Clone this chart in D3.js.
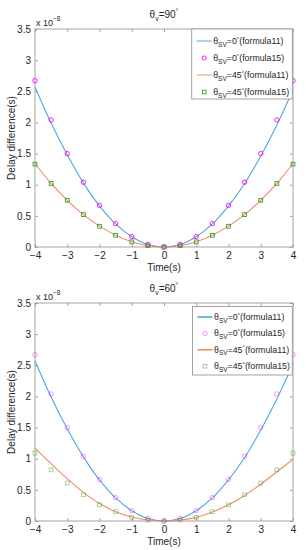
<!DOCTYPE html>
<html><head><meta charset="utf-8">
<script src="https://cdn.jsdelivr.net/npm/d3@7"></script>
<style>
body{margin:0;background:#fff;}
text{font-family:"Liberation Sans",Arial,sans-serif;fill:#262626;}
</style></head>
<body><svg id="c" width="306" height="550"></svg>
<script>
const time = [-4,-3.5,-3,-2.5,-2,-1.5,-1,-0.5,0,0.5,1,1.5,2,2.5,3,3.5,4];
const xTicks = [-4,-3,-2,-1,0,1,2,3,4];
const yTicks = [0,0.5,1,1.5,2,2.5,3,3.5];
const titles = ["90", "60"];
// values in units of 1e-8 s
const top_f11_sv0  = [2.57,1.99,1.48,1.03,0.66,0.37,0.165,0.04,0,0.04,0.165,0.37,0.66,1.02,1.46,1.96,2.52];
const top_f15_sv0  = [2.67,2.04,1.50,1.04,0.667,0.375,0.167,0.042,0,0.042,0.167,0.375,0.667,1.04,1.50,2.04,2.67];
const top_f11_sv45 = [1.34,1.02,0.75,0.52,0.335,0.19,0.085,0.021,0,0.021,0.085,0.19,0.335,0.52,0.75,1.02,1.34];
const top_f15_sv45 = [1.33,1.02,0.75,0.52,0.333,0.188,0.083,0.021,0,0.021,0.083,0.188,0.333,0.52,0.75,1.02,1.33];
const bot_f11_sv0  = [2.57,1.99,1.48,1.03,0.66,0.37,0.165,0.04,0,0.04,0.165,0.37,0.66,1.02,1.46,1.96,2.52];
const bot_f15_sv0  = [2.67,2.04,1.50,1.04,0.667,0.375,0.167,0.042,0,0.042,0.167,0.375,0.667,1.04,1.50,2.04,2.67];
const bot_f11_sv45 = [1.17,0.92,0.68,0.46,0.28,0.15,0.065,0.016,0,0.014,0.058,0.145,0.26,0.41,0.59,0.79,0.99];
const bot_f15_sv45 = [1.09,0.82,0.61,0.42,0.26,0.15,0.06,0.016,0,0.016,0.06,0.15,0.26,0.42,0.61,0.82,1.09];
const legendAngles = ["0","0","45","45"];
const legendFormulas = ["formula11","formula15","formula11","formula15"];

const svg = d3.select("#c");
const BLUE="#4ea8e2", ORANGE="#ec8f62", MAG="#ff00ff", GREEN="#3d9a30";

function panel(top, title, f11a, f15a, f11b, f15b, opts){
  const L=35, R=293, T=top, B=top+218;
  const x = d3.scaleLinear().domain([-4,4]).range([L,R]);
  const y = d3.scaleLinear().domain([0,3.5]).range([B,T]);
  const g = svg.append("g");
  g.append("rect").attr("x",L).attr("y",T).attr("width",R-L).attr("height",B-T)
    .attr("fill","none").attr("stroke","#9a9a9a").attr("stroke-width",0.9);
  const axB = d3.axisBottom(x).tickValues(xTicks).tickSize(-3).tickPadding(5)
     .tickFormat(d=> d<0 ? "\u2212"+Math.abs(d) : d);
  const gx = g.append("g").attr("transform",`translate(0,${B})`).call(axB);
  const axT = d3.axisTop(x).tickValues(xTicks).tickSize(-3).tickFormat("");
  const gxt = g.append("g").attr("transform",`translate(0,${T})`).call(axT);
  const axL = d3.axisLeft(y).tickValues(yTicks).tickSize(-3).tickPadding(4).tickFormat(d=>d);
  const gy = g.append("g").attr("transform",`translate(${L},0)`).call(axL);
  const axR = d3.axisRight(y).tickValues(yTicks).tickSize(-3).tickFormat("");
  const gyr = g.append("g").attr("transform",`translate(${R},0)`).call(axR);
  [gx,gxt,gy,gyr].forEach(a=>{
    a.select(".domain").remove();
    a.selectAll("line").attr("stroke","#9a9a9a").attr("stroke-width",0.9);
    a.selectAll("text").style("font-family","Liberation Sans, Arial, sans-serif").style("font-size","10px").attr("fill","#262626");
  });
  const ex = g.append("text").attr("x",L+1).attr("y",T-3).style("font-size","9px");
  ex.append("tspan").text("x 10");
  ex.append("tspan").attr("dy",-5).style("font-size","6.5px").text("\u22128");
  const tt = g.append("text").attr("x",164).attr("y",T-11).attr("text-anchor","middle").style("font-size","10px");
  tt.append("tspan").text("\u03b8");
  tt.append("tspan").attr("dy",3).style("font-size","7px").text("v");
  tt.append("tspan").attr("dy",-3).text("=" + title);
  tt.append("tspan").attr("dy",-4).style("font-size","7px").text("\u00b0");
  g.append("text").attr("x",164).attr("y",B+24).attr("text-anchor","middle").style("font-size","10px").text("Time(s)");
  g.append("text").attr("transform",`translate(15,${(T+B)/2}) rotate(-90)`).attr("text-anchor","middle")
    .style("font-size","10px").text("Delay difference(s)");

  const line = d3.line().x((d,i)=>x(time[i])).y(d=>y(d)).curve(d3.curveCatmullRom);
  g.append("path").datum(f11a).attr("d",line).attr("fill","none").attr("stroke",BLUE).attr("stroke-width",1.1);
  g.append("path").datum(f11b).attr("d",line).attr("fill","none").attr("stroke",ORANGE).attr("stroke-width",1.1);
  g.selectAll(".circ").data(f15a).enter().append("circle")
    .attr("cx",(d,i)=>x(time[i])).attr("cy",d=>y(d)).attr("r",2.2)
    .attr("fill","none").attr("stroke",MAG).attr("stroke-width",opts.mw).attr("stroke-opacity",opts.mo);
  g.selectAll(".sq").data(f15b).enter().append("rect")
    .attr("x",(d,i)=>x(time[i])-1.9).attr("y",d=>y(d)-1.9).attr("width",3.8).attr("height",3.8)
    .attr("fill","none").attr("stroke",GREEN).attr("stroke-width",opts.mw).attr("stroke-opacity",opts.mo);

  const lg = g.append("g");
  const lx = opts.lx, ly = T+opts.lt, lw = R-0.7-lx, lh = opts.lh;
  lg.append("rect").attr("x",lx).attr("y",ly).attr("width",lw).attr("height",lh)
    .attr("fill","#fff").attr("stroke","#9a9a9a").attr("stroke-width",0.9);
  legendAngles.forEach((a,i)=>{
    const cy = ly + opts.r0 + i*opts.rs;
    if(i===0||i===2){
      lg.append("line").attr("x1",lx+5).attr("x2",lx+20).attr("y1",cy).attr("y2",cy)
        .attr("stroke", i===0?BLUE:ORANGE).attr("stroke-width",opts.lw);
    } else if(i===1){
      lg.append("circle").attr("cx",lx+12.5).attr("cy",cy).attr("r",2.1).attr("fill","none")
        .attr("stroke",MAG).attr("stroke-width",opts.mw).attr("stroke-opacity",opts.mo);
    } else {
      lg.append("rect").attr("x",lx+10.7).attr("y",cy-1.8).attr("width",3.6).attr("height",3.6).attr("fill","none")
        .attr("stroke",GREEN).attr("stroke-width",opts.mw).attr("stroke-opacity",opts.mo);
    }
    const t = lg.append("text").attr("x",lx+21.5).attr("y",cy+3).style("font-size","8.8px");
    t.append("tspan").text("\u03b8");
    t.append("tspan").attr("dy",2.5).style("font-size","6.5px").text("SV");
    t.append("tspan").attr("dy",-2.5).text("="+a);
    t.append("tspan").attr("dy",-3.5).style("font-size","6px").text("\u00b0");
    t.append("tspan").attr("dy",3.5).text("("+legendFormulas[i]+")");
  });
}

panel(29, titles[0], top_f11_sv0, top_f15_sv0, top_f11_sv45, top_f15_sv45,
      {mw:0.9, mo:1, lx:191.7, lt:0, lh:70, r0:12, rs:17, lw:1});
panel(303, titles[1], bot_f11_sv0, bot_f15_sv0, bot_f11_sv45, bot_f15_sv45,
      {mw:0.8, mo:0.55, lx:192.5, lt:3.5, lh:68.5, r0:10.5, rs:16.4, lw:1.6});
</script></body></html>
